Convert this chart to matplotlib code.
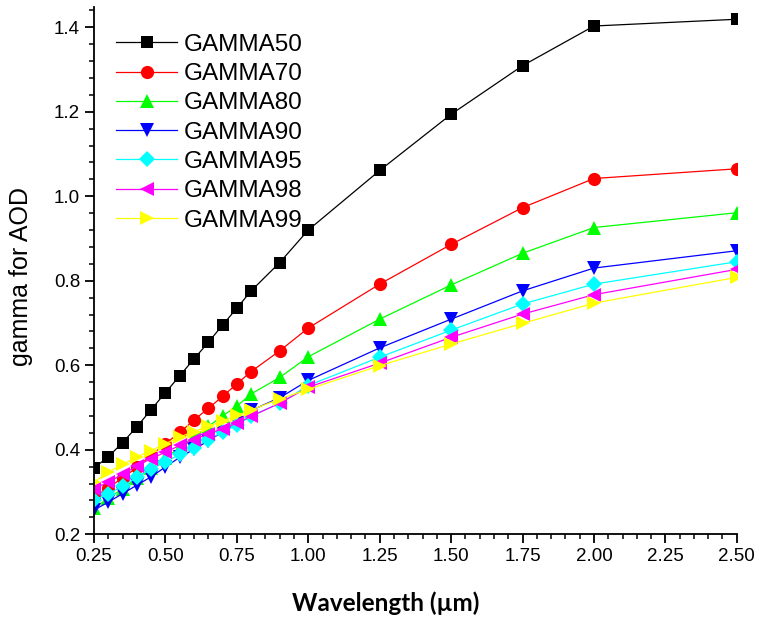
import matplotlib
matplotlib.use('Agg')
import matplotlib.pyplot as plt
from matplotlib.ticker import MultipleLocator, FormatStrFormatter

# wavelength (um)
wavelength = [0.25, 0.3, 0.35, 0.4, 0.45, 0.5, 0.55, 0.6, 0.65, 0.7, 0.75, 0.8,
              0.9, 1.0, 1.25, 1.5, 1.75, 2.0, 2.5]

gamma50 = [0.357, 0.383, 0.417, 0.454, 0.495, 0.535, 0.575, 0.615, 0.654, 0.695,
           0.735, 0.776, 0.843, 0.920, 1.061, 1.194, 1.309, 1.403, 1.419]
gamma70 = [0.288, 0.310, 0.333, 0.358, 0.387, 0.414, 0.441, 0.470, 0.498, 0.526,
           0.556, 0.585, 0.634, 0.688, 0.792, 0.886, 0.973, 1.042, 1.065]
gamma80 = [0.262, 0.285, 0.308, 0.332, 0.356, 0.380, 0.405, 0.430, 0.455, 0.480,
           0.503, 0.532, 0.571, 0.620, 0.709, 0.790, 0.865, 0.926, 0.961]
gamma90 = [0.257, 0.276, 0.296, 0.316, 0.336, 0.359, 0.382, 0.401, 0.421, 0.442,
           0.463, 0.493, 0.523, 0.564, 0.641, 0.709, 0.776, 0.830, 0.871]
gamma95 = [0.280, 0.296, 0.313, 0.335, 0.354, 0.371, 0.389, 0.405, 0.424, 0.442,
           0.458, 0.480, 0.510, 0.552, 0.619, 0.683, 0.745, 0.792, 0.845]
gamma98 = [0.308, 0.323, 0.342, 0.361, 0.379, 0.394, 0.410, 0.424, 0.437, 0.450,
           0.463, 0.479, 0.510, 0.548, 0.605, 0.666, 0.721, 0.767, 0.827]
gamma99 = [0.323, 0.347, 0.365, 0.383, 0.398, 0.414, 0.430, 0.443, 0.455, 0.468,
           0.481, 0.494, 0.520, 0.543, 0.599, 0.650, 0.699, 0.747, 0.808]

labels = ['GAMMA50', 'GAMMA70', 'GAMMA80', 'GAMMA90', 'GAMMA95', 'GAMMA98', 'GAMMA99']
series = [gamma50, gamma70, gamma80, gamma90, gamma95, gamma98, gamma99]
colors = ['#000000', '#ff0000', '#00ff00', '#0000ff', '#00ffff', '#ff00ff', '#ffff00']
markers = ['s', 'o', '^', 'v', 'D', '<', '>']
msizes = [8.5, 9.5, 10, 10, 8, 10, 10]

plt.rcParams['font.family'] = ['Liberation Sans', 'DejaVu Sans']

fig = plt.figure(figsize=(7.58, 6.19), dpi=100)
ax = fig.add_axes([0.124, 0.137, 0.848, 0.851])

for y, lab, c, m, ms in zip(series, labels, colors, markers, msizes):
    ax.plot(wavelength, y, color=c, marker=m, markersize=ms, linewidth=0.9,
            markeredgewidth=0, label=lab)

ax.set_xlim(0.25, 2.5)
ax.set_ylim(0.2, 1.447)

ax.xaxis.set_major_locator(MultipleLocator(0.25))
ax.xaxis.set_minor_locator(MultipleLocator(0.05))
ax.yaxis.set_major_locator(MultipleLocator(0.2))
ax.yaxis.set_minor_locator(MultipleLocator(0.04))
ax.xaxis.set_major_formatter(FormatStrFormatter('%.2f'))
ax.yaxis.set_major_formatter(FormatStrFormatter('%.1f'))

ax.spines['top'].set_visible(False)
ax.spines['right'].set_visible(False)
ax.spines['left'].set_linewidth(1.3)
ax.spines['bottom'].set_linewidth(1.3)
ax.tick_params(which='major', direction='out', length=6.5, width=1.3, labelsize=13.5)
ax.tick_params(which='minor', direction='out', length=3.5, width=1.1)

ax.set_xlabel('Wavelength (\u00b5m)', fontsize=17.5, fontweight='bold',
              family=['Lato', 'DejaVu Sans'])
ax.xaxis.set_label_coords(0.454, -0.108)
ax.set_ylabel('gamma for AOD', fontsize=18)
ax.yaxis.set_label_coords(-0.095, 0.49)

leg = ax.legend(loc='upper left', bbox_to_anchor=(0.035, 0.95), frameon=False,
                fontsize=17.5, handlelength=2.5, handletextpad=0.25,
                labelspacing=0.3, borderpad=0, borderaxespad=0)

fig.savefig('out.png', dpi=100)
